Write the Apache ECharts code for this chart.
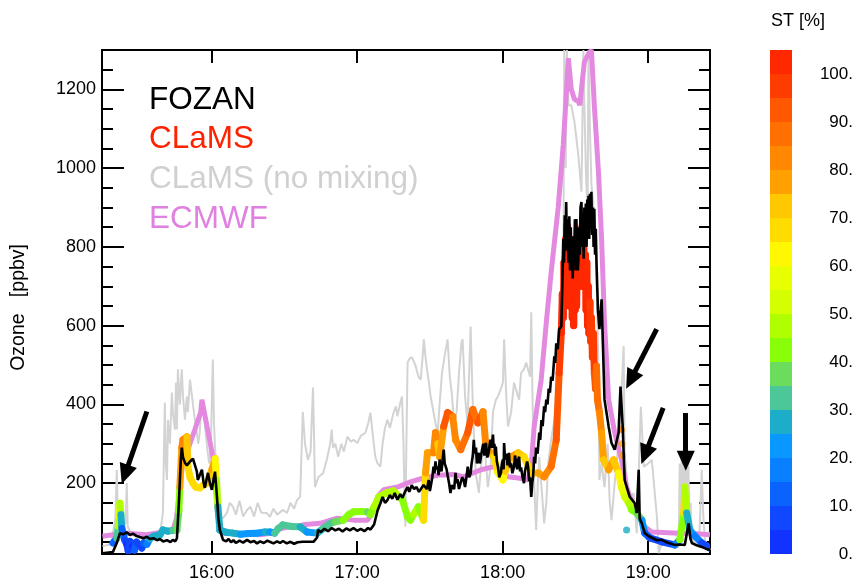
<!DOCTYPE html>
<html><head><meta charset="utf-8">
<script src="https://cdn.jsdelivr.net/npm/echarts@6/dist/echarts.min.js"></script>
<style>html,body{margin:0;padding:0;background:#fff}#c{width:858px;height:588px}</style>
</head><body><div id="c"></div>
<script>
// time values: minutes after 15:00 UTC ; ozone in ppbv
const xTickMinutes = [60, 120, 180, 240];
const xTickLabels = ['16:00', '17:00', '18:00', '19:00'];
const yMajorTicks = [200, 400, 600, 800, 1000, 1200];
const yMinorTicks = [50,100,150,200,250,300,350,400,450,500,550,600,650,700,750,800,850,900,950,1000,1050,1100,1150,1200,1250];
const stLabels = [0, 10, 20, 30, 40, 50, 60, 70, 80, 90, 100];
const stBandStep = 5;
const stColors = ['#1232FF','#1048FF','#0A62FF','#0880FF','#0898FF','#1CAEC8','#4CC898','#6CDC5C','#88FF08','#B0FF00','#D4FF00','#E8FF00','#FFF800','#FFDC00','#FFC800','#FFA000','#FF8800','#FF7000','#FF5800','#FF3C00','#FF2800'];

const fozanData = [[15.0,22],[19.3,25],[21.0,50],[22.2,73],[23.5,70],[25.0,75],[26.3,68],[27.5,72],[29.0,66],[30.4,63],[32,60],[33.3,64],[34.5,58],[36,60],[37.5,55],[38.7,58],[40,52],[41.6,55],[43,50],[44.0,56],[45.0,52],[45.7,60],[46.5,150],[47.3,260],[47.7,290],[48.2,265],[49.0,252],[49.8,245],[50.2,242],[51.1,255],[52.3,262],[53.1,267],[53.9,230],[54.3,208],[55.1,220],[56.0,234],[56.6,205],[57.2,188],[58.1,215],[58.5,226],[59.3,200],[60.1,183],[60.8,210],[61.4,229],[62.2,165],[62.8,110],[63.4,81],[64.7,56],[66,52],[67,58],[68,50],[69,55],[70,48],[71.5,54],[73,49],[74.6,56],[76,50],[77.5,53],[78.7,47],[80,52],[81.5,48],[83,54],[84.0,51],[85.5,47],[87,52],[88.2,48],[89.4,53],[91,47],[92.5,51],[94,46],[95.5,50],[97.6,51],[99.3,51],[102,51],[103.5,62],[103.9,81],[105,76],[106.5,84],[108,78],[109.5,86],[111,80],[112.5,84],[114,77],[115.5,85],[117,80],[118.5,86],[120,79],[121.5,84],[123,78],[124.5,86],[125.5,82],[127,95],[128.4,130],[129.6,149],[130.5,165],[131.5,150],[132.5,157],[133.5,170],[134.5,160],[135.5,175],[136.6,158],[137.8,172],[138.7,163],[139.9,180],[140.8,190],[141.5,178],[142.5,195],[143.5,185],[144.5,190],[145.5,178],[146.2,183],[147.4,195],[148.2,200],[148.8,185],[149.5,208],[150.0,180],[150.3,190],[151.0,215],[151.5,242],[151.9,225],[152.3,255],[152.7,235],[153.2,242],[153.6,220],[154,260],[154.4,238],[154.8,230],[155.3,262],[155.7,285],[156.1,250],[156.5,255],[156.9,235],[157.3,220],[157.9,200],[158.5,175],[159.0,195],[159.4,200],[160.0,185],[160.6,226],[161.0,200],[161.4,210],[162.0,185],[162.7,190],[163.3,215],[163.9,208],[164.5,190],[165,195],[165.3,225],[165.6,242],[166.2,215],[166.8,225],[167.2,250],[167.7,270],[168.1,310],[168.5,275],[169,290],[169.4,250],[169.8,260],[170.2,277],[170.6,250],[171,265],[171.5,285],[172,300],[172.5,270],[173.1,302],[173.7,265],[174.3,280],[174.7,300],[175,310],[175.5,290],[176.0,323],[176.3,290],[176.6,300],[176.9,270],[177.2,293],[177.6,255],[178.1,240],[178.6,215],[179.3,226],[179.7,250],[180.1,260],[180.4,235],[180.6,302],[181.0,260],[181.5,275],[182.0,245],[182.6,277],[183.0,240],[183.5,250],[184.0,225],[184.7,242],[185.1,270],[185.5,265],[186.0,235],[186.4,260],[186.8,267],[187.2,230],[187.6,240],[188.2,215],[188.8,200],[189.2,230],[189.7,230],[190.1,255],[190.5,242],[190.9,205],[191.3,215],[191.8,165],[192.2,200],[192.6,220],[193.0,267],[193.4,250],[193.8,290],[194.4,275],[195.1,328],[195.5,310],[196,360],[196.5,345],[197.1,395],[197.5,380],[198.0,412],[198.5,400],[199,440],[199.5,430],[200.0,470],[200.6,460],[201.3,522],[201.7,505],[202.1,555],[202.7,540],[203.3,591],[204.2,598],[204.6,700],[205.0,820],[205.3,760],[205.6,880],[205.9,790],[206.2,914],[206.5,800],[206.8,870],[207.1,760],[207.5,878],[207.8,740],[208.1,850],[208.3,780],[208.6,827],[208.9,720],[209.1,827],[209.4,760],[209.8,870],[210.1,740],[210.4,871],[210.7,790],[211.0,740],[211.2,761],[211.5,850],[211.8,780],[212.1,900],[212.5,914],[212.8,800],[213.1,878],[213.4,770],[213.7,900],[214.0,820],[214.3,910],[214.6,800],[214.9,920],[215.2,840],[215.4,930],[215.7,820],[216.0,935],[216.3,850],[216.6,940],[216.9,830],[217.2,900],[217.5,800],[217.8,897],[218.1,780],[218.4,846],[218.7,760],[219.0,700],[219.3,640],[219.9,591],[220.8,667],[221.6,497],[222.0,412],[223.7,344],[224.9,302],[226.2,285],[227.8,328],[228.6,445],[229.5,344],[230.3,208],[232.4,165],[234.5,149],[235.3,124],[236.1,234],[236.5,110],[237.4,98],[238.6,73],[240.3,65],[242,60],[243.5,55],[245.6,56],[247.5,50],[249,47],[251.0,43],[253,44],[255.1,43],[256.7,98],[257.4,60],[258.0,48],[260,42],[262.1,38],[264,33],[265.5,30]];

const noMixingData = [[15.0,40],[18.5,45],[20.3,110],[20.9,234],[21.3,120],[22.5,80],[24.6,100],[25.0,200],[25.4,90],[27,70],[30,60],[33,65],[36,62],[38.7,70],[39.9,124],[40.7,404],[41.1,250],[41.6,208],[42.0,361],[42.8,300],[43.6,430],[44.0,380],[44.9,336],[45.3,455],[45.7,336],[46.1,489],[46.9,400],[47.7,489],[48.2,420],[49.0,361],[49.8,420],[50.2,380],[51.1,463],[52.3,400],[53.1,361],[53.9,361],[54.5,300],[55.1,330],[56.0,412],[57.2,350],[58.1,293],[59,250],[59.7,300],[60.5,514],[61.0,350],[61.4,290],[62.2,208],[63.4,124],[64.5,110],[66.3,124],[67.5,150],[68.8,140],[70,120],[71.5,155],[73,115],[74.6,132],[76,140],[77.5,115],[79,150],[80.5,125],[82.8,124],[84,114],[85.5,135],[87,120],[89.4,132],[91.1,124],[92.5,150],[94,135],[95.2,157],[96.5,165],[97.6,381],[98.5,300],[99.7,259],[100.8,280],[101.8,443],[102.3,300],[102.6,190],[104,215],[106.0,226],[107.5,260],[108.9,300],[109.5,336],[110.1,290],[111,300],[112.2,267],[113.5,300],[114.5,280],[116.0,318],[117.5,305],[118.5,310],[120.1,302],[121.5,320],[123.4,328],[124.5,350],[125.5,379],[126.5,320],[127.5,267],[128.4,250],[129.6,242],[130.5,300],[131.5,340],[132.5,361],[133.5,340],[135.0,379],[136,395],[136.6,370],[137.8,404],[138.5,420],[139.1,300],[139.5,180],[139.9,89],[140.3,300],[140.8,506],[141.5,515],[142.5,520],[143.2,519],[144,500],[145.3,470],[146.2,463],[147.0,520],[147.5,565],[148.2,520],[149.0,480],[149.5,460],[150.3,420],[151.5,380],[152.3,353],[153.2,328],[154,400],[155.0,480],[156,520],[157.3,565],[158.2,470],[159,430],[160.0,350],[161.0,379],[162,480],[163,557],[163.5,565],[164.5,420],[165.5,350],[166.8,598],[167.5,440],[168.1,330],[168.9,226],[170.2,175],[171,240],[172.5,300],[173.9,190],[175,240],[176.0,380],[177.2,412],[178.1,420],[179.3,440],[180.1,455],[180.6,565],[181.5,420],[182.2,344],[183.5,380],[184.7,455],[185.5,438],[186.8,412],[187.6,480],[188.8,489],[189.7,506],[190.5,509],[191.3,470],[191.8,634],[192.3,420],[192.6,328],[193.0,200],[193.8,81],[194.5,200],[195.1,267],[195.9,267],[196.5,150],[197.1,98],[198.0,150],[198.8,250],[200.0,310],[201.3,360],[202.1,394],[203,500],[204,600],[205.0,700],[205.4,1300],[206,1000],[206.5,1300],[207.1,1160],[208.3,1160],[209.6,1118],[211.2,1033],[212.5,940],[213.3,1300],[213.7,1160],[214.3,1000],[215,880],[215.4,1300],[216,1100],[216.6,960],[217.5,900],[218.3,820],[219.5,497],[219.9,208],[220.8,250],[222.0,190],[223.3,300],[224.1,157],[224.9,106],[226.2,200],[228.2,328],[229.9,548],[230.3,277],[232.0,157],[234.0,175],[235.3,73],[237.0,394],[238.2,242],[240,250],[241.5,259],[243.6,114],[244.4,22],[245.6,48],[248,45],[251,40],[252.6,38],[253.0,250],[253.4,60],[253.8,259],[254.3,70],[254.7,270],[255.1,80],[255.5,277],[256.0,90],[256.5,270],[257.0,110],[257.5,150],[258.0,60],[259.2,48],[261,45],[262.1,234],[262.7,120],[263.4,56],[265.5,30]];

const ecmwfData = [[15.0,65],[19.3,69],[25.0,73],[33.3,69],[38.7,75],[44.0,80],[45.5,110],[47.7,234],[50.2,285],[53.1,336],[55.5,380],[56.0,412],[58.1,344],[60.5,267],[62.6,114],[64.2,73],[68.8,73],[79.9,69],[85.3,73],[88.2,84],[91,88],[96.5,90],[97.6,94],[104.7,98],[111.8,111],[118.5,106],[124.2,106],[126,120],[128.4,165],[130.9,183],[136.6,190],[142.0,203],[147.4,213],[153.2,220],[160,222],[163.9,216],[171.0,234],[176.4,242],[180,230],[182.2,216],[186.4,213],[190.5,208],[192,260],[193.0,344],[195.9,463],[198.0,608],[200.0,735],[202.9,900],[205.0,1060],[207.1,1279],[208.3,1200],[209.6,1175],[211.2,1170],[211.8,1160],[212.5,1200],[213.7,1270],[215.4,1290],[216.6,1300],[217.8,1160],[219.5,991],[220.8,820],[222.0,608],[223.7,412],[226.2,328],[229.0,259],[231.1,190],[234.5,132],[238.6,89],[241.5,76],[252.6,73],[256.7,73],[265.5,69]];

// CLaMS: [minutes, ozone, ST %]
const clamsData = [[19.3,48,5],[20.9,60,10],[21.5,90,30],[22.0,114,45],[22.2,149,55],[22.6,120,45],[23.0,85,28],[24.2,55,10],[25.0,45,5],[25.6,28,3],[26.3,52,8],[27.5,40,5],[28.2,30,3],[29,50,10],[30.4,42,5],[31.2,35,5],[32,48,8],[33.3,45,12],[34.5,58,18],[36,65,25],[38.7,69,28],[39.9,81,28],[42.0,78,27],[44.0,80,28],[45.7,81,30],[46.5,130,38],[46.9,190,42],[47.7,290,78],[48.2,310,80],[49.8,318,82],[50.2,242,70],[51.1,215,66],[52.3,200,65],[53.5,190,66],[55.1,188,68],[56.5,195,66],[58.1,200,65],[60.1,234,72],[61.4,262,78],[62.0,208,62],[62.6,140,45],[63.4,81,28],[66,75,27],[68.8,73,27],[72,70,25],[75,72,22],[78.7,73,20],[82,76,24],[84.0,76,28],[86,73,22],[87.5,85,30],[89.4,94,33],[93,90,32],[96.5,89,32],[99.3,76,27],[103.5,73,22],[106,85,26],[108.9,98,30],[111,102,34],[114.3,106,37],[116.5,120,40],[118.5,127,42],[122,128,42],[124.2,127,42],[125.5,120,38],[127,140,40],[129,165,45],[132,175,45],[135,180,45],[138.7,157,45],[140.8,114,43],[142.0,106,40],[143.2,120,42],[145.3,140,45],[147.4,106,42],[148.2,226,65],[149.0,277,75],[151.5,277,76],[152.3,328,82],[153.2,300,80],[154,267,70],[155.7,344,78],[157.3,379,92],[159.4,369,90],[160.6,310,82],[162.7,285,80],[165.6,328,85],[167.7,387,92],[169.8,353,88],[171.9,381,90],[173.1,293,82],[176.4,267,75],[178.1,226,68],[180.1,208,60],[181.0,230,62],[183.5,267,72],[186.4,277,75],[188.8,267,72],[191.8,226,68],[194.7,226,72],[197.1,216,75],[200.0,242,80],[202.1,310,85],[203.3,480,92],[204.2,582,97],[204.6,680,100],[205.0,620,100],[205.3,760,100],[205.6,700,100],[206.0,820,100],[206.3,700,100],[206.6,853,100],[206.9,720,100],[207.2,800,100],[207.5,650,100],[207.8,760,100],[208.1,660,100],[208.4,740,100],[208.7,620,100],[209.0,700,100],[209.3,600,100],[209.6,735,100],[209.9,640,100],[210.2,760,100],[210.5,650,100],[210.8,786,100],[211.1,700,100],[211.4,827,100],[211.7,720,100],[212.0,800,100],[212.4,700,100],[212.8,853,100],[213.1,760,100],[213.4,830,100],[213.8,700,100],[214.1,780,100],[214.4,640,100],[214.7,760,100],[215.0,600,100],[215.3,700,100],[215.6,580,100],[216.0,660,100],[216.3,560,99],[216.6,620,99],[217.0,520,98],[217.4,580,98],[217.8,480,95],[218.3,440,90],[218.7,497,90],[219.1,412,85],[219.9,380,85],[220.8,328,82],[221.6,259,75],[223.7,234,73],[225.7,259,75],[227.8,226,70],[229.0,190,63],[230.3,165,55],[232.0,149,50],[233.2,132,45],[235.3,124,40],[237.4,106,38],[238.6,73,20],[240.7,61,12],[245.6,51,8],[251.0,43,5],[253.0,56,15],[254.7,124,40],[255.1,190,65],[255.9,124,45],[257.2,81,25],[259.2,66,20],[262.1,48,15],[265.4,35,8]];
const clamsExtra = [[231.1,81,28],[229.0,336,80],[229.2,300,78],[229.4,270,76]];

// arrows: [tailMinutes, tailOzone, headMinutes, headOzone]
const arrowsData = [[33.3,382,24.3,222],[243.5,591,232.8,462],[246.2,391,238.7,272],[255.5,378,255.5,257]];

const FONT = '"Liberation Sans", Arial, Helvetica, sans-serif';
const X_MIN = 14.8, X_MAX = 265.5, Y_MIN = 20, Y_MAX = 1300;

function bandColor(st) {
  const i = Math.max(0, Math.min(stColors.length - 1, Math.floor(st / stBandStep)));
  return stColors[i];
}
const clamsSeg = clamsData.map((d, i) => { const p = clamsData[Math.max(0, i - 1)]; return [d[0], d[1], d[2], p[0], p[1]]; });

function yAx(pos, ticks, len, withLabels) {
  const a = {
    type: 'value', gridIndex: 0, position: pos, min: Y_MIN, max: Y_MAX,
    axisLine: { show: true, onZero: false, lineStyle: { color: '#000', width: 2 } },
    axisTick: { show: true, inside: true, length: len, customValues: ticks, lineStyle: { color: '#000', width: 2 } },
    axisLabel: { show: false },
    splitLine: { show: false }
  };
  if (withLabels) {
    a.axisLabel = { show: true, customValues: yMajorTicks, margin: 6, color: '#000', fontSize: 18, fontFamily: FONT,
      formatter: v => String(Math.round(v)) };
    a.name = 'Ozone   [ppbv]  ';
    a.nameLocation = 'middle';
    a.nameGap = 73;
    a.nameTextStyle = { color: '#000', fontSize: 19.5, fontFamily: FONT };
  }
  return a;
}
function xAx(pos, withLabels) {
  return {
    type: 'value', gridIndex: 0, position: pos, min: X_MIN, max: X_MAX,
    axisLine: { show: true, onZero: false, lineStyle: { color: '#000', width: 2 } },
    axisTick: { show: true, inside: true, length: 13, customValues: xTickMinutes, lineStyle: { color: '#000', width: 2 } },
    axisLabel: withLabels ? { show: true, customValues: xTickMinutes, margin: 10, color: '#000', fontSize: 18, fontFamily: FONT,
      formatter: v => xTickLabels[xTickMinutes.indexOf(Math.round(v))] || '' } : { show: false },
    splitLine: { show: false }
  };
}

const chart = echarts.init(document.getElementById('c'), null, { renderer: 'canvas' });
const series = [
  { type: 'line', name: 'CLaMS (no mixing)', xAxisIndex: 0, yAxisIndex: 0, data: noMixingData, showSymbol: false, clip: true,
    lineStyle: { color: '#d3d3d3', width: 2 }, itemStyle: { color: '#d3d3d3' }, z: 2, silent: true },
  { type: 'line', name: 'ECMWF', xAxisIndex: 0, yAxisIndex: 0, data: ecmwfData, showSymbol: false, clip: true,
    lineStyle: { color: '#E38AE0', width: 5 }, itemStyle: { color: '#E38AE0' }, z: 3, silent: true },
  { type: 'custom', name: 'CLaMS', xAxisIndex: 0, yAxisIndex: 0, data: clamsSeg, clip: true, z: 4, silent: true,
    encode: { x: [0, 3], y: [1, 4] },
    renderItem: function (params, api) {
      const a = api.coord([api.value(3), api.value(4)]);
      const b = api.coord([api.value(0), api.value(1)]);
      return { type: 'line', shape: { x1: a[0], y1: a[1], x2: b[0], y2: b[1] },
        style: { stroke: bandColor(api.value(2)), lineWidth: 7, lineCap: 'round' } };
    } },
  { type: 'scatter', name: 'CLaMS extra', xAxisIndex: 0, yAxisIndex: 0, data: clamsExtra, symbolSize: 7, z: 4, silent: true,
    itemStyle: { color: p => bandColor(p.value[2]) } },
  { type: 'line', name: 'FOZAN', xAxisIndex: 0, yAxisIndex: 0, data: fozanData, showSymbol: false, clip: true,
    lineStyle: { color: '#000', width: 2.6 }, itemStyle: { color: '#000' }, z: 5, silent: true,
    markLine: { silent: true, animation: false, symbol: ['none', 'triangle'], symbolSize: [18, 20],
      label: { show: false }, emphasis: { disabled: true },
      lineStyle: { color: '#000', width: 5, type: 'solid' }, itemStyle: { color: '#000' },
      data: arrowsData.map(a => [{ coord: [a[0], a[1]] }, { coord: [a[2], a[3]] }]) } }
];
stColors.forEach((c) => {
  series.push({ type: 'bar', xAxisIndex: 2, yAxisIndex: 4, stack: 'st', data: [stBandStep], barWidth: '100%',
    itemStyle: { color: c }, silent: true });
});

chart.setOption({
  animation: false,
  backgroundColor: '#fff',
  grid: [
    { left: 102, top: 50, width: 608, height: 504, show: false },
    { left: 770, top: 50, width: 22, height: 504, show: false }
  ],
  xAxis: [
    xAx('bottom', true),
    xAx('top', false),
    { type: 'category', gridIndex: 1, data: ['ST'], show: false }
  ],
  yAxis: [
    yAx('left', yMajorTicks, 22, true),
    yAx('left', yMinorTicks, 11, false),
    yAx('right', yMajorTicks, 22, false),
    yAx('right', yMinorTicks, 11, false),
    { type: 'value', gridIndex: 1, position: 'right', min: 0, max: 105,
      axisLine: { show: false }, axisTick: { show: false }, splitLine: { show: false },
      axisLabel: { show: true, customValues: stLabels, formatter: v => v + '.', align: 'right', margin: 61,
        color: '#000', fontSize: 17, fontFamily: FONT } }
  ],
  graphic: [
    { type: 'text', x: 149, y: 100, silent: true, style: { text: 'FOZAN', fill: '#000', fontSize: 31.5, fontFamily: FONT, align: 'left', verticalAlign: 'middle' } },
    { type: 'text', x: 149, y: 139.5, silent: true, style: { text: 'CLaMS', fill: '#FF2200', fontSize: 31.5, fontFamily: FONT, align: 'left', verticalAlign: 'middle' } },
    { type: 'text', x: 149, y: 179, silent: true, style: { text: 'CLaMS (no mixing)', fill: '#D0D0D0', fontSize: 31.5, fontFamily: FONT, align: 'left', verticalAlign: 'middle' } },
    { type: 'text', x: 149, y: 219, silent: true, style: { text: 'ECMWF', fill: '#E080E0', fontSize: 31.5, fontFamily: FONT, align: 'left', verticalAlign: 'middle' } },
    { type: 'text', x: 798, y: 21, silent: true, style: { text: 'ST [%]', fill: '#000', fontSize: 18, fontFamily: FONT, align: 'center', verticalAlign: 'middle' } }
  ],
  series: series
});
</script>
</body></html>
